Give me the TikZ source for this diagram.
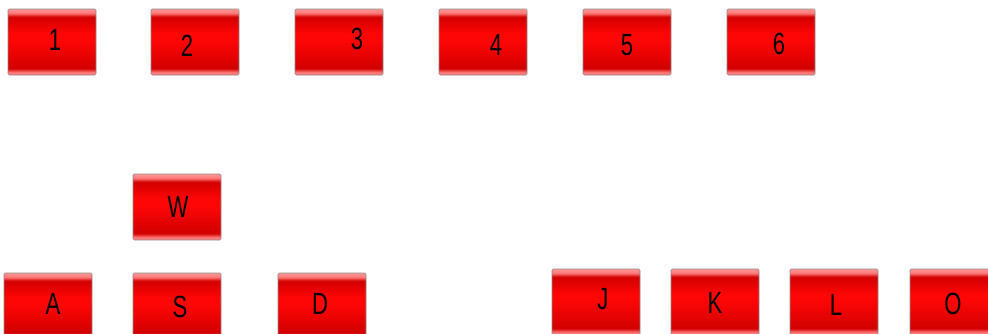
\documentclass[tikz,border=0pt]{standalone}
\usepackage{fontspec}
\newfontfamily\keyfam{Liberation Sans}[FakeStretch=0.72]
\usetikzlibrary{positioning}
\definecolor{KeyRed}{HTML}{FF0606}
\definecolor{KeyDark}{HTML}{D20000}
\definecolor{KeyPink}{HTML}{FF7A7A}
\definecolor{KeyEdge}{HTML}{8C8C8C}
\pgfdeclareverticalshading{keyface}{100bp}{color(0bp)=(KeyPink); color(25bp)=(KeyPink); color(27bp)=(KeyPink); color(30bp)=(KeyDark); color(52bp)=(KeyRed); color(56bp)=(KeyRed); color(69bp)=(KeyDark); color(72bp)=(KeyPink); color(75bp)=(KeyPink!80!white); color(100bp)=(KeyPink!80!white)}
\tikzset{
  keycap/.style={draw=KeyEdge,rounded corners=1pt,shading=keyface,minimum width=66pt,minimum height=49.5pt,inner sep=0pt},
  every label/.style={font=\keyfam\fontsize{23pt}{23pt}\selectfont,inner sep=0pt}
}

\begin{document}
\begin{tikzpicture}[x=0.75pt,y=-0.75pt]
    \useasboundingbox (0,0) rectangle (988,333);
    % number row
    \foreach \n/\x/\dx/\dy in {1/52/3/-2,2/195/-8/4,3/339/18/-3,4/483/13/3,5/627/0/3,6/771/8/2}
      {\node[keycap,label={[shift={(\dx,\dy)}]center:\n}] (key\n) at (\x,42) {};}
    % left hand
    \node[keycap,label={[shift={(1,0)}]center:W}] (keyW) at (177,207) {};
    \foreach \n/\x/\dx/\dy in {A/48/5/-2,S/177/3/1,D/322/-2/-2}
      {\node[keycap,label={[shift={(\dx,\dy)}]center:\n}] (key\n) at (\x,306) {};}
    % right hand
    \foreach \n/\x/\dx/\dy in {J/596/7/-3,K/715/0/1,L/834/2/3,O/954/-1/2}
      {\node[keycap,label={[shift={(\dx,\dy)}]center:\n}] (key\n) at (\x,302) {};}
\end{tikzpicture}
\end{document}
